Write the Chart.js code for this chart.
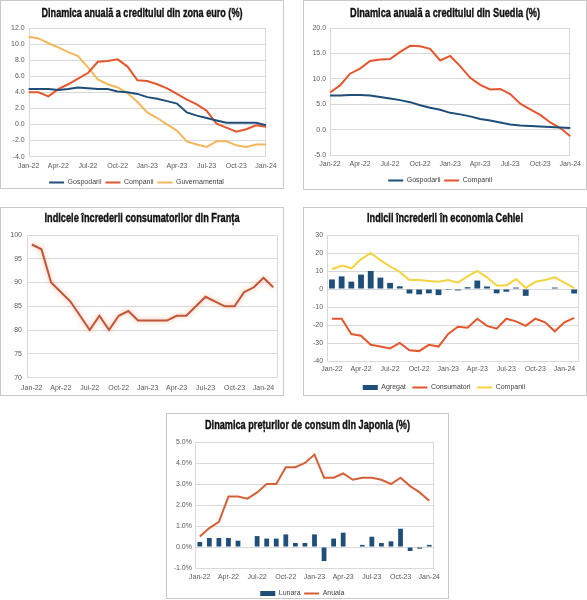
<!DOCTYPE html>
<html>
<head>
<meta charset="utf-8">
<script src="https://cdn.jsdelivr.net/npm/chart.js@4.4.1/dist/chart.umd.min.js"></script>
<style>
  body { margin: 0; background: #fff; width: 587px; height: 600px; position: relative; overflow: hidden; }
  .panel { position: absolute; border: 1px solid #c8c8c8; background: #fff; overflow: hidden; }
  .panel canvas { display: block; }
</style>
</head>
<body>
<div class="panel" style="left:0;top:0;width:282px;height:187px"><canvas id="euro" width="282" height="195"></canvas></div>
<div class="panel" style="left:303px;top:0;width:282px;height:188px"><canvas id="sweden" width="282" height="193"></canvas></div>
<div class="panel" style="left:0;top:207px;width:282px;height:187px"><canvas id="france" width="282" height="190"></canvas></div>
<div class="panel" style="left:303px;top:207px;width:282px;height:187px"><canvas id="czech" width="282" height="193"></canvas></div>
<div class="panel" style="left:166px;top:413px;width:281px;height:184px"><canvas id="japan" width="281" height="193"></canvas></div>
<script>
// months on the x axis
const months = ['Jan-22','Feb-22','Mar-22','Apr-22','May-22','Jun-22','Jul-22','Aug-22','Sep-22','Oct-22','Nov-22','Dec-22',
  'Jan-23','Feb-23','Mar-23','Apr-23','May-23','Jun-23','Jul-23','Aug-23','Sep-23','Oct-23','Nov-23','Dec-23','Jan-24','Feb-24'];
const months25 = months.slice(0, 25);

// zona euro (%)
const euroGospodarii = [4.4,4.4,4.4,4.3,4.4,4.6,4.5,4.4,4.4,4.1,4.0,3.8,3.4,3.2,2.9,2.6,1.5,1.1,0.8,0.5,0.2,0.2,0.2,0.2,-0.1];
const euroCompanii = [4.0,4.0,3.5,4.4,5.0,5.7,6.4,7.8,7.9,8.1,7.2,5.5,5.4,5.0,4.5,3.8,3.1,2.5,1.7,0.1,-0.4,-0.9,-0.6,-0.1,-0.3];
const euroGuvernamental = [10.9,10.7,10.1,9.6,9.0,8.5,7.1,5.6,5.0,4.6,3.9,2.8,1.5,0.8,0.0,-0.8,-2.1,-2.5,-2.8,-2.1,-2.1,-2.6,-2.8,-2.5,-2.5];

// Suedia (%)
const sweGospodarii = [6.7,6.7,6.8,6.8,6.7,6.4,6.1,5.8,5.4,4.8,4.3,3.9,3.3,3.0,2.6,2.1,1.8,1.4,1.0,0.8,0.7,0.6,0.5,0.4,0.3];
const sweCompanii = [7.3,8.7,11.0,12.0,13.5,13.8,13.9,15.3,16.5,16.4,15.9,13.6,14.5,12.5,10.2,8.8,7.9,8.0,7.0,5.1,4.0,2.9,1.4,0.3,-1.3];

// Franta
const franceIndex = [98,97,90,88,86,83,80,83,80,83,84,82,82,82,82,83,83,85,87,86,85,85,88,89,91,89];

// Cehia
const czAgregat = [5.3,7.0,4.1,8.0,10.0,6.3,3.4,1.5,-2.5,-3.0,-2.4,-3.4,-0.5,-0.8,1.0,4.7,1.4,-2.4,-1.5,0.8,-3.8,0,0.3,0.8,-0.3,-2.5];
const czConsumatori = [-16.5,-16.5,-25,-26,-31,-32,-33,-30,-34,-34.5,-31,-32,-25,-21,-21.5,-16.5,-20.5,-22,-16.5,-18,-20.5,-16.5,-18.5,-23.5,-18.5,-16];
const czCompanii = [11,13,11.5,16.5,20,16,12.5,9.5,5,5,4.5,4,5,3.5,7,10,6.5,2,2,5.5,0.5,4,5,6.5,3.5,0.5];

// Japonia (%)
const jpLunara = [0.24,0.43,0.43,0.43,0.3,0,0.52,0.4,0.4,0.6,0.19,0.19,0.6,-0.67,0.4,0.68,0,0.1,0.49,0.19,0.27,0.87,-0.19,-0.08,0.1];
const jpAnuala = [0.5,0.9,1.2,2.4,2.4,2.3,2.6,3.0,3.0,3.8,3.8,4.0,4.4,3.3,3.3,3.5,3.2,3.3,3.3,3.2,3.0,3.3,2.9,2.6,2.2];

const NAVY = '#1f4e79';
const RED = '#e4572e';
const GOLD = '#f2b85a';
const YELLOW = '#f5d33f';
const tickFont = { family: "'Liberation Sans', Arial, sans-serif", size: 7 };

// light frame around the plot area, like the Excel originals
const plotBorder = {
  id: 'plotBorder',
  beforeDatasetsDraw(chart) {
    const { ctx, chartArea: a } = chart;
    ctx.save();
    ctx.strokeStyle = '#d9d9d9';
    ctx.lineWidth = 1;
    ctx.beginPath();
    ctx.moveTo(Math.round(a.left) + 0.5, a.top);
    ctx.lineTo(Math.round(a.left) + 0.5, a.bottom);
    ctx.moveTo(Math.round(a.right) - 0.5, a.top);
    ctx.lineTo(Math.round(a.right) - 0.5, a.bottom);
    ctx.stroke();
    ctx.restore();
  }
};

// soft halo for the France line
const glow = {
  id: 'glow',
  beforeDatasetDraw(chart, args, opts) {
    if (!opts.color) return;
    chart.ctx.save();
    chart.ctx.shadowColor = opts.color;
    chart.ctx.shadowBlur = 5;
  },
  afterDatasetDraw(chart, args, opts) {
    if (!opts.color) return;
    chart.ctx.restore();
  }
};

// narrow heavy title (no condensed font installed, so squeeze a bold face)
const panelTitle = {
  id: 'panelTitle',
  afterDraw(chart, args, opts) {
    const ctx = chart.ctx;
    ctx.save();
    ctx.font = "bold 12.5px 'Liberation Sans', Arial, sans-serif";
    ctx.fillStyle = '#111';
    ctx.strokeStyle = '#111';
    ctx.lineWidth = 0.4;
    ctx.textAlign = 'center';
    ctx.textBaseline = 'middle';
    const sx = opts.w / ctx.measureText(opts.text).width;
    ctx.translate(chart.width / 2, opts.y);
    ctx.scale(sx, 1);
    ctx.fillText(opts.text, 0, 0);
    ctx.strokeText(opts.text, 0, 0);
    ctx.restore();
  }
};

function lineSet(label, data, color) {
  return { type: 'line', label, data, borderColor: color, backgroundColor: color, borderWidth: 2,
    pointRadius: 0, tension: 0, order: 0 };
}

function barSet(label, data, pct) {
  return { type: 'bar', label, data, backgroundColor: NAVY, borderWidth: 0,
    categoryPercentage: 1, barPercentage: pct, order: 1 };
}

function makeChart(id, opt) {
  return new Chart(document.getElementById(id), {
    data: { labels: opt.labels, datasets: opt.datasets },
    options: {
      responsive: false,
      animation: false,
      layout: { padding: opt.padding },
      scales: {
        x: {
          offset: opt.offset,
          grid: { display: false, drawTicks: false },
          border: { display: false },
          ticks: {
            font: tickFont, color: '#595959', autoSkip: false, maxRotation: 0, padding: opt.xpad,
            callback: (v, i) => (i % 3 === 0 ? opt.labels[i] : '')
          }
        },
        y: {
          min: opt.min, max: opt.max,
          grid: { color: '#d9d9d9', drawTicks: false },
          border: { display: false },
          ticks: { font: tickFont, color: '#595959', stepSize: opt.step, padding: opt.ypad, callback: opt.fmt }
        }
      },
      plugins: {
        panelTitle: opt.title,
        legend: {
          display: opt.legendPad !== undefined,
          position: 'bottom',
          labels: {
            usePointStyle: true, pointStyleWidth: 15, boxHeight: 5, padding: opt.legendPad,
            font: tickFont, color: '#404040',
            sort: (a, b) => a.datasetIndex - b.datasetIndex,
            generateLabels(chart) {
              const items = Chart.defaults.plugins.legend.labels.generateLabels(chart);
              items.forEach(it => {
                it.pointStyle = chart.data.datasets[it.datasetIndex].type === 'bar' ? 'rect' : 'line';
              });
              return items;
            }
          }
        },
        tooltip: { enabled: false },
        glow: { color: opt.glow }
      }
    },
    plugins: [plotBorder, glow, panelTitle]
  });
}

makeChart('euro', {
  title: { text: 'Dinamica anuală a creditului din zona euro (%)', y: 13, w: 201 },
  labels: months25, offset: false, min: -4, max: 12, step: 2,
  fmt: v => v.toFixed(1), xpad: 5, ypad: 4, legendPad: 4,
  padding: { left: 6, right: 17, top: 27, bottom: 0 },
  datasets: [
    lineSet('Gospodarii', euroGospodarii, NAVY),
    lineSet('Companii', euroCompanii, RED),
    lineSet('Guvernamental', euroGuvernamental, GOLD)
  ]
});

makeChart('sweden', {
  title: { text: 'Dinamica anuală a creditului din Suedia (%)', y: 13, w: 190 },
  labels: months25, offset: false, min: -5, max: 20, step: 5,
  fmt: v => v.toFixed(1), xpad: 5, ypad: 4, legendPad: 3.6,
  padding: { left: 4.4, right: 14, top: 27, bottom: 0 },
  datasets: [
    lineSet('Gospodarii', sweGospodarii, NAVY),
    lineSet('Companii', sweCompanii, RED)
  ]
});

makeChart('france', {
  title: { text: 'Indicele încrederii consumatorilor din Franța', y: 11, w: 195 },
  labels: months, offset: true, min: 70, max: 100, step: 5,
  fmt: v => v, xpad: 6, ypad: 5, glow: 'rgba(245,170,130,0.9)',
  padding: { left: 4.3, right: 5, top: 27, bottom: 0 },
  datasets: [
    lineSet('Franta', franceIndex, '#c0553a')
  ]
});

makeChart('czech', {
  title: { text: 'Indicii încrederii în economia Cehiei', y: 11, w: 156 },
  labels: months, offset: true, min: -40, max: 30, step: 10,
  fmt: v => v, xpad: 4, ypad: 4, legendPad: 6.6,
  padding: { left: 5, right: 7, top: 27, bottom: 0 },
  datasets: [
    barSet('Agregat', czAgregat, 0.6),
    lineSet('Consumatori', czConsumatori, RED),
    lineSet('Companii', czCompanii, YELLOW)
  ]
});

makeChart('japan', {
  title: { text: 'Dinamica prețurilor de consum din Japonia (%)', y: 12, w: 205 },
  labels: months25, offset: true, min: -1, max: 5, step: 1,
  fmt: v => v.toFixed(1) + '%', xpad: 5, ypad: 3, legendPad: 3.6,
  padding: { left: 3.7, right: 14, top: 28, bottom: 0 },
  datasets: [
    barSet('Lunara', jpLunara, 0.5),
    lineSet('Anuala', jpAnuala, '#d4603a')
  ]
});
</script>
</body>
</html>
